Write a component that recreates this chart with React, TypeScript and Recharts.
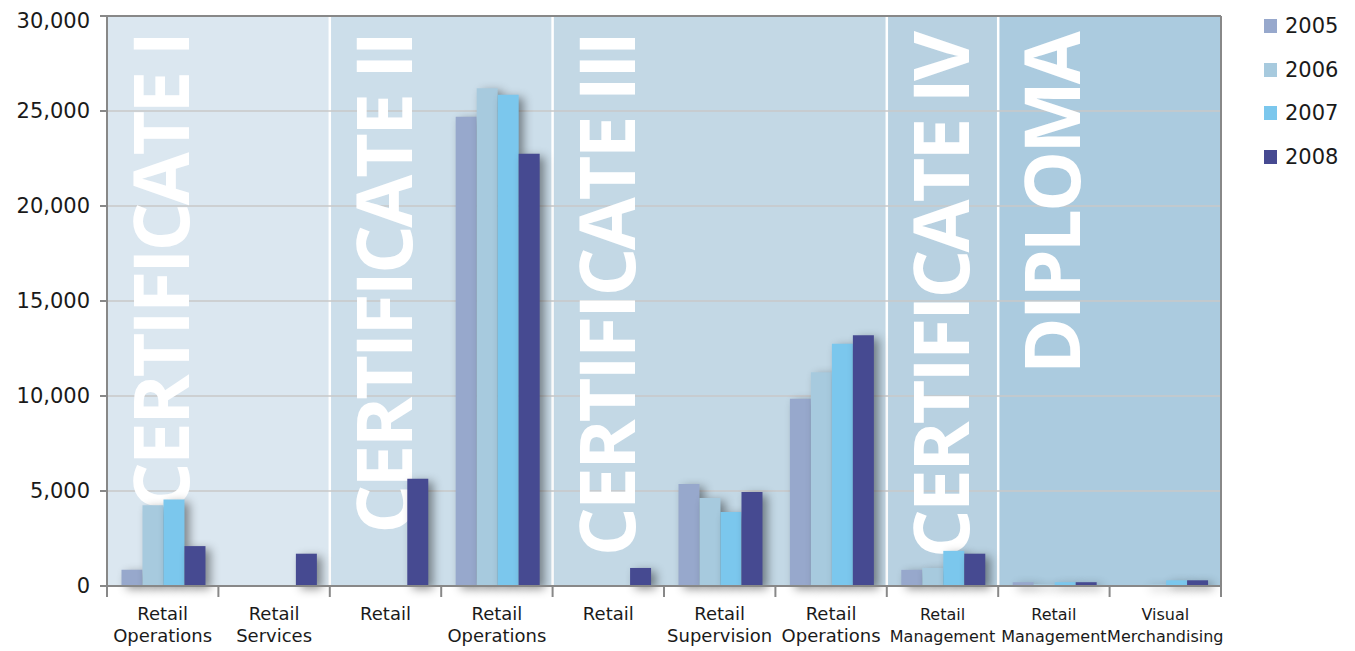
import React from "react";
import {
  BarChart,
  Bar,
  XAxis,
  YAxis,
  CartesianGrid,
  ReferenceArea,
} from "recharts";

// category ids (unique) and their two-line labels
const categoryIds = ["c0", "c1", "c2", "c3", "c4", "c5", "c6", "c7", "c8", "c9"];
const categoryLabels = [
  ["Retail", "Operations"],
  ["Retail", "Services"],
  ["Retail"],
  ["Retail", "Operations"],
  ["Retail"],
  ["Retail", "Supervision"],
  ["Retail", "Operations"],
  ["Retail", "Management"],
  ["Retail", "Management"],
  ["Visual", "Merchandising"],
];

const years = ["2005", "2006", "2007", "2008"];
const values2005 = [850, 0, 0, 24700, 0, 5370, 9850, 850, 200, 0];
const values2006 = [4250, 0, 0, 26200, 0, 4630, 11250, 950, 100, 100];
const values2007 = [4550, 0, 0, 25850, 0, 3900, 12750, 1850, 200, 300];
const values2008 = [2100, 1700, 5650, 22750, 950, 4950, 13200, 1700, 200, 300];
const yTicks = [0, 5000, 10000, 15000, 20000, 25000, 30000];

// qualification levels: first and last category of each group
const levelNames = ["CERTIFICATE I", "CERTIFICATE II", "CERTIFICATE III", "CERTIFICATE IV", "DIPLOMA"];
const levelFrom = ["c0", "c2", "c4", "c7", "c8"];
const levelTo = ["c1", "c3", "c6", "c7", "c9"];

const COLORS = ["#97a8cc", "#a7cade", "#7bc7ed", "#464a91"];
const BAND_COLORS = ["#dbe7f0", "#ccdeea", "#c3d8e5", "#b8d1e1", "#abcbdf"];

const data = categoryIds.map((id, i) => ({
  id,
  y2005: values2005[i],
  y2006: values2006[i],
  y2007: values2007[i],
  y2008: values2008[i],
}));

const seriesKeys = ["y2005", "y2006", "y2007", "y2008"];
const BAND_W = 111.4;

const CategoryTick = (props: any) => {
  const { x, y, payload } = props;
  const idx = categoryIds.indexOf(payload.value);
  const lines = categoryLabels[idx] || [];
  const fs = idx >= 7 ? 16 : 18;
  return (
    <g>
      <line x1={x - BAND_W / 2} x2={x - BAND_W / 2} y1={y} y2={y + 11} stroke="#888" strokeWidth={2} />
      {idx === categoryIds.length - 1 && (
        <line x1={x + BAND_W / 2} x2={x + BAND_W / 2} y1={y} y2={y + 11} stroke="#888" strokeWidth={2} />
      )}
      {lines.map((t, k) => (
        <text
          key={k}
          x={x}
          y={y + 34 + k * 22}
          textAnchor="middle"
          fontSize={fs}
          fontFamily="DejaVu Sans"
          fill="#1a1a1a"
        >
          {t}
        </text>
      ))}
    </g>
  );
};

const bandShape = (i: number) => (props: any) => {
  const { x, y, width, height } = props;
  return (
    <g>
      <rect x={x} y={y} width={width} height={height} fill={BAND_COLORS[i]} />
      {i > 0 && <line x1={x} x2={x} y1={y} y2={y + height} stroke="#ffffff" strokeWidth={2.5} />}
    </g>
  );
};

const labelShape = (i: number) => (props: any) => {
  const { x, y } = props;
  return (
    <text
      transform={`translate(${x + 82},${y + 18}) rotate(-90)`}
      textAnchor="end"
      fontSize={77}
      fontWeight={700}
      letterSpacing={-3}
      fontFamily="Open Sans"
      fill="#ffffff"
    >
      {levelNames[i]}
    </text>
  );
};

const borderShape = (props: any) => {
  const { x, y, width, height } = props;
  return (
    <g>
      <line x1={x} x2={x + width} y1={y} y2={y} stroke="#888" strokeWidth={2} />
      <line x1={x + width} x2={x + width} y1={y} y2={y + height} stroke="#888" strokeWidth={2} />
    </g>
  );
};

export default function App() {
  return (
    <div style={{ position: "relative", width: 1347, height: 643 }}>
      <BarChart
        width={1347}
        height={643}
        data={data}
        margin={{ top: 8, right: 134, bottom: 5, left: 0 }}
        barCategoryGap="13%"
        barGap={0}
      >
        {levelNames.map((n, i) => (
          <ReferenceArea
            key={`band-${n}`}
            x1={levelFrom[i]}
            x2={levelTo[i]}
            y1={0}
            y2={30000}
            shape={bandShape(i)}
            zIndex={-150}
          />
        ))}
        <CartesianGrid vertical={false} stroke="#c9c9c9" strokeWidth={1.5} />
        {levelNames.map((n, i) => (
          <ReferenceArea
            key={`label-${n}`}
            x1={levelFrom[i]}
            x2={levelTo[i]}
            y1={0}
            y2={30000}
            shape={labelShape(i)}
            zIndex={-50}
          />
        ))}
        <ReferenceArea y1={0} y2={30000} shape={borderShape} zIndex={-40} />
        <XAxis
          dataKey="id"
          height={60}
          tick={<CategoryTick />}
          tickLine={false}
          tickSize={0}
          tickMargin={0}
          axisLine={{ stroke: "#888", strokeWidth: 2 }}
          interval={0}
        />
        <YAxis
          width={99}
          domain={[0, 30000]}
          ticks={yTicks}
          tickFormatter={(v: number) => v.toLocaleString("en-US")}
          tick={{ fill: "#1a1a1a", fontSize: 21, fontFamily: "DejaVu Sans" }}
          tickLine={{ stroke: "#888", strokeWidth: 2 }}
          tickSize={7}
          tickMargin={10}
          axisLine={{ stroke: "#888", strokeWidth: 2 }}
        />
        {seriesKeys.map((k, i) => (
          <Bar
            key={k}
            dataKey={k}
            name={years[i]}
            fill={COLORS[i]}
            isAnimationActive={false}
            style={{ filter: "drop-shadow(5px 3px 5px rgba(0,0,0,0.42))" }}
          />
        ))}
      </BarChart>
      <div style={{ position: "absolute", left: 1256, top: -4, fontFamily: "DejaVu Sans" }}>
        {years.map((yr, i) => (
          <div key={yr} style={{ display: "flex", alignItems: "center", height: 43.7 }}>
            <div style={{ width: 13, height: 14, background: COLORS[i], marginRight: 8 }} />
            <span style={{ fontSize: 21, color: "#1a1a1a" }}>{yr}</span>
          </div>
        ))}
      </div>
    </div>
  );
}
